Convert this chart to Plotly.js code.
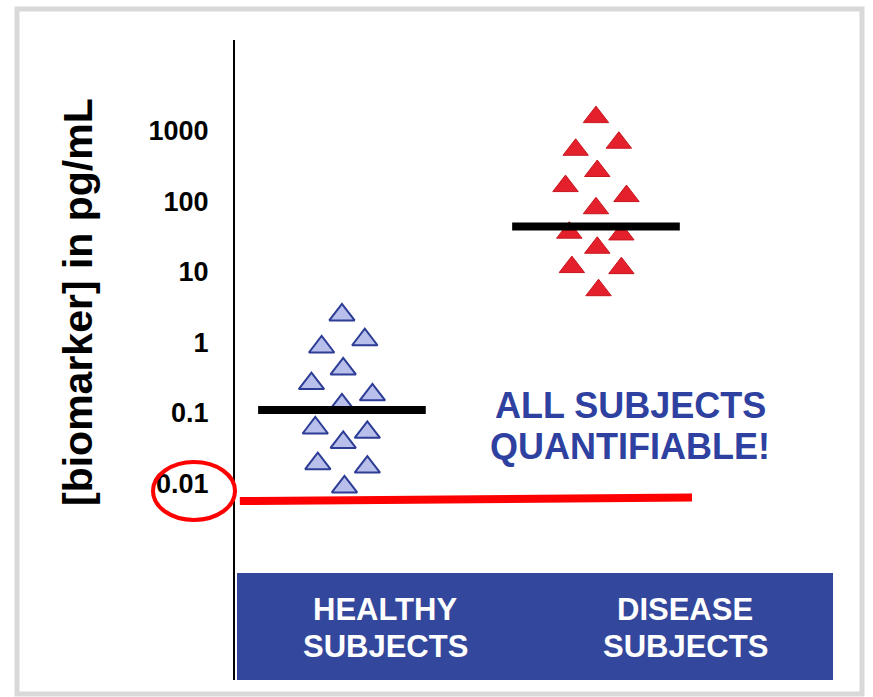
<!DOCTYPE html>
<html>
<head>
<meta charset="utf-8">
<script src="https://cdn.plot.ly/plotly-3.0.1.min.js"></script>
<style>
  html, body { margin: 0; padding: 0; background: #ffffff; }
  #chart { width: 873px; height: 697px; }
</style>
</head>
<body>
<div id="chart"></div>
<script>
// ---- data ----
var categories = ['HEALTHY', 'DISEASE'];
var categoryLabels = [['HEALTHY', 'SUBJECTS'], ['DISEASE', 'SUBJECTS']];
var groupCenters = [1, 2];
var jitter = [0, 0.09, -0.08, 0.005, -0.12, 0.12, 0, -0.105, 0.10, 0.005, -0.095, 0.10, 0.01];
var healthyValues = [2.45, 1.09, 0.86, 0.42, 0.26, 0.18, 0.13, 0.061, 0.053, 0.038, 0.019, 0.017, 0.0089];
var diseaseValues = [1570, 680, 540, 270, 165, 119, 80, 36, 34, 22, 11.7, 11.3, 5.5];
var healthyMedian = 0.11;
var diseaseMedian = 44;
var lloqLine = [0.0056, 0.0063];
var lloqX = [0.598, 2.378];
var tickValues = [0.01, 0.1, 1, 10, 100, 1000];
var tickLabels = ['0.01', '0.1', '1', '10', '100', '1000'];
var yTitle = '[biomarker] in pg/mL';
var callout = ['ALL SUBJECTS', 'QUANTIFIABLE!'];

var FONT = 'Liberation Sans, Arial, sans-serif';
var medianHalfWidth = 0.33;

var traces = [];
// LLOQ red line
traces.push({
  x: lloqX, y: lloqLine, mode: 'lines', type: 'scatter',
  line: {color: '#ff0000', width: 8}, hoverinfo: 'skip', showlegend: false
});
// healthy triangles
traces.push({
  x: healthyValues.map(function(v, i){ return groupCenters[0] + jitter[i]; }),
  y: healthyValues, mode: 'markers', type: 'scatter', showlegend: false,
  marker: {symbol: 'triangle-up', size: 22, color: '#b7bfea', line: {color: '#2d3d96', width: 2}}
});
// disease triangles
traces.push({
  x: diseaseValues.map(function(v, i){ return groupCenters[1] + jitter[i]; }),
  y: diseaseValues, mode: 'markers', type: 'scatter', showlegend: false,
  marker: {symbol: 'triangle-up', size: 22, color: '#e3202b', line: {color: '#c8161f', width: 1}}
});
// medians
[healthyMedian, diseaseMedian].forEach(function(m, i){
  traces.push({
    x: [groupCenters[i] - medianHalfWidth, groupCenters[i] + medianHalfWidth],
    y: [m, m], mode: 'lines', type: 'scatter', showlegend: false,
    line: {color: '#000000', width: 8}, hoverinfo: 'skip'
  });
});

// plot area: x 235..833, y 40..680
function px(x){ return (x - 235) / 598; }
function py(y){ return (680 - y) / 640; }

var annotations = [];
annotations.push({
  xref: 'paper', yref: 'paper', x: px(78), y: py(302), text: yTitle,
  textangle: -90, showarrow: false, xanchor: 'center', yanchor: 'middle',
  font: {family: FONT, size: 41, color: '#000000', weight: 'bold'}
});
var calloutY = [405, 446];
callout.forEach(function(t, i){
  annotations.push({
    xref: 'paper', yref: 'paper', x: px(630), y: py(calloutY[i]), text: t,
    showarrow: false, xanchor: 'center', yanchor: 'middle',
    font: {family: FONT, size: 36, color: '#2f41a0', weight: 'bold'}
  });
});
var labelX = [385, 685];
var labelY = [609, 646];
categoryLabels.forEach(function(lines, i){
  lines.forEach(function(t, j){
    annotations.push({
      xref: 'paper', yref: 'paper', x: px(labelX[i]), y: py(labelY[j]), text: t,
      showarrow: false, xanchor: 'center', yanchor: 'middle',
      font: {family: FONT, size: 31, color: '#ffffff', weight: 'bold'}
    });
  });
});

var shapes = [
  // outer grey frame
  {type: 'rect', xref: 'paper', yref: 'paper', x0: px(17), x1: px(862), y0: py(694), y1: py(9),
   line: {color: '#d9d9d9', width: 5}, fillcolor: 'rgba(0,0,0,0)', layer: 'below'},
  // blue category band
  {type: 'rect', xref: 'paper', yref: 'paper', x0: px(237), x1: 1, y0: 0, y1: py(573),
   line: {width: 0}, fillcolor: '#33479c', layer: 'below'},
  // red ellipse around 0.01
  {type: 'circle', xref: 'paper', yref: 'paper', x0: px(153), x1: px(235), y0: py(520), y1: py(462),
   line: {color: '#ff0000', width: 4}, fillcolor: 'rgba(0,0,0,0)', layer: 'above'}
];

var layout = {
  width: 873, height: 697,
  margin: {l: 235, r: 40, t: 40, b: 17},
  paper_bgcolor: '#ffffff', plot_bgcolor: 'rgba(0,0,0,0)',
  showlegend: false,
  xaxis: {range: [0.579, 2.933], visible: false, fixedrange: true},
  yaxis: {
    type: 'log', range: [-4.79, 4.29], showgrid: false, zeroline: false,
    showline: true, linecolor: '#000000', linewidth: 2, ticks: '',
    tickvals: tickValues, ticktext: tickLabels, ticklabelstandoff: 19,
    tickfont: {family: FONT, size: 27, color: '#000000', weight: 'bold'}
  },
  annotations: annotations,
  shapes: shapes
};

Plotly.newPlot('chart', traces, layout, {displayModeBar: false, staticPlot: true});
</script>
</body>
</html>
